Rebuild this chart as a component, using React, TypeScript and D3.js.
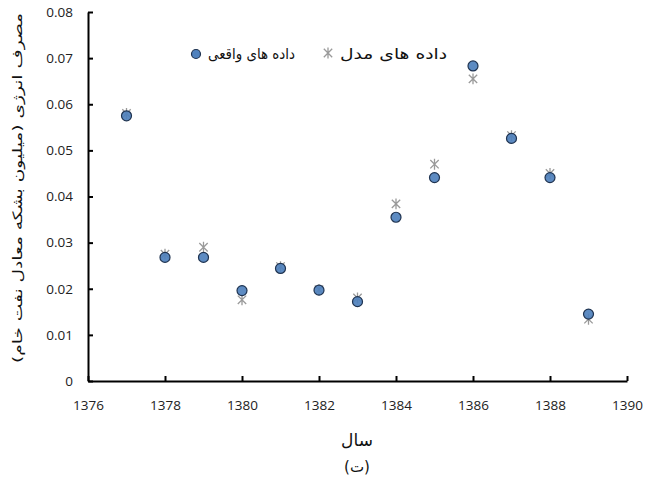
import React, { useEffect, useRef } from 'react';
import * as d3 from 'd3';

// سال ها
const years = [1377, 1378, 1379, 1380, 1381, 1382, 1383, 1384, 1385, 1386, 1387, 1388, 1389];
// داده های واقعی
const actual = [0.0575, 0.0268, 0.0268, 0.0196, 0.0244, 0.0197, 0.0172, 0.0355, 0.0441, 0.0683, 0.0526, 0.0441, 0.0145];
// داده های مدل
const model = [0.058, 0.0275, 0.029, 0.0176, 0.0248, 0.0198, 0.018, 0.0384, 0.047, 0.0655, 0.0532, 0.045, 0.0134];
const xTicks = [1376, 1378, 1380, 1382, 1384, 1386, 1388, 1390];
const yTicks = [0, 0.01, 0.02, 0.03, 0.04, 0.05, 0.06, 0.07, 0.08];

const W = 654;
const H = 492;
const faFont = '"DejaVu Sans", sans-serif';
const numFont = '"Open Sans", "Liberation Sans", sans-serif';

// star marker: X plus a vertical bar
const starPath = (r) => `M${-r},${-r}L${r},${r}M${-r},${r}L${r},${-r}M0,${-r * 1.3}L0,${r * 1.3}`;

function App() {
  const ref = useRef(null);

  useEffect(() => {
    const svg = d3.select(ref.current);
    svg.selectAll('*').remove();

    const margin = { top: 12, right: 27, bottom: 111, left: 88 };
    const x = d3.scaleLinear().domain([1376, 1390]).range([margin.left, W - margin.right]);
    const y = d3.scaleLinear().domain([0, 0.08]).range([H - margin.bottom, margin.top]);

    // axes
    const xAxis = svg.append('g')
      .attr('transform', `translate(0,${y(0)})`)
      .call(d3.axisBottom(x).tickValues(xTicks).tickSizeInner(-5).tickSizeOuter(0).tickFormat(d3.format('d')));
    xAxis.select('.domain').attr('stroke', '#000').attr('stroke-width', 2);
    xAxis.selectAll('.tick line').attr('stroke', '#000').attr('stroke-width', 2);
    xAxis.selectAll('.tick text')
      .attr('y', 19)
      .attr('font-family', numFont)
      .attr('font-size', 13.5)
      .attr('fill', '#222');

    const yAxis = svg.append('g')
      .attr('transform', `translate(${x(1376)},0)`)
      .call(d3.axisLeft(y).tickValues(yTicks).tickSizeInner(-5).tickSizeOuter(0)
        .tickFormat((d) => (d === 0 ? '0' : d3.format('.2f')(d))));
    yAxis.select('.domain').attr('stroke', '#000').attr('stroke-width', 2);
    yAxis.selectAll('.tick line').attr('stroke', '#000').attr('stroke-width', 2);
    yAxis.selectAll('.tick text')
      .attr('x', -15)
      .attr('font-family', numFont)
      .attr('font-size', 13.5)
      .attr('fill', '#222');

    // model points
    svg.append('g')
      .selectAll('path')
      .data(years)
      .enter()
      .append('path')
      .attr('transform', (d, i) => `translate(${x(d)},${y(model[i])})`)
      .attr('d', starPath(4.2))
      .attr('fill', 'none')
      .attr('stroke', '#9a9a9a')
      .attr('stroke-width', 1.3);

    // actual points
    svg.append('g')
      .selectAll('circle')
      .data(years)
      .enter()
      .append('circle')
      .attr('cx', (d) => x(d))
      .attr('cy', (d, i) => y(actual[i]))
      .attr('r', 5)
      .attr('fill', '#4f81bd')
      .attr('fill-opacity', 0.92)
      .attr('stroke', '#1f3350')
      .attr('stroke-width', 1.2);

    // legend
    const lg = svg.append('g');
    lg.append('circle')
      .attr('cx', 196).attr('cy', 54).attr('r', 4.5)
      .attr('fill', '#4f81bd').attr('stroke', '#1f3350').attr('stroke-width', 1.2);
    lg.append('text')
      .attr('x', 208).attr('y', 59)
      .attr('font-family', faFont)
      .attr('font-size', 15)
      .attr('fill', '#111')
      .attr('textLength', 87)
      .attr('lengthAdjust', 'spacingAndGlyphs')
      .text('داده های واقعی');
    lg.append('path')
      .attr('transform', 'translate(328,53)')
      .attr('d', starPath(4.2))
      .attr('fill', 'none')
      .attr('stroke', '#9a9a9a')
      .attr('stroke-width', 1.3);
    lg.append('text')
      .attr('x', 340).attr('y', 59)
      .attr('font-family', faFont)
      .attr('font-size', 15)
      .attr('fill', '#111')
      .attr('textLength', 107)
      .attr('lengthAdjust', 'spacingAndGlyphs')
      .text('داده های مدل');

    // axis titles
    svg.append('text')
      .attr('transform', 'translate(22,188) rotate(-90)')
      .attr('text-anchor', 'middle')
      .attr('font-family', faFont)
      .attr('font-size', 13)
      .attr('fill', '#111')
      .attr('textLength', 350)
      .attr('lengthAdjust', 'spacingAndGlyphs')
      .text('مصرف انرژی (میلیون بشکه معادل نفت خام)');

    svg.append('text')
      .attr('x', 357).attr('y', 446)
      .attr('text-anchor', 'middle')
      .attr('font-family', faFont)
      .attr('font-size', 17)
      .attr('fill', '#111')
      .text('سال');

    svg.append('text')
      .attr('x', 357).attr('y', 472)
      .attr('text-anchor', 'middle')
      .attr('font-family', faFont)
      .attr('font-size', 15)
      .attr('fill', '#111')
      .text('(ت)');
  }, []);

  return (
    <svg
      ref={ref}
      width={W}
      height={H}
      style={{ position: 'absolute', left: 0, top: 0, background: '#fff' }}
    />
  );
}

export default App;
